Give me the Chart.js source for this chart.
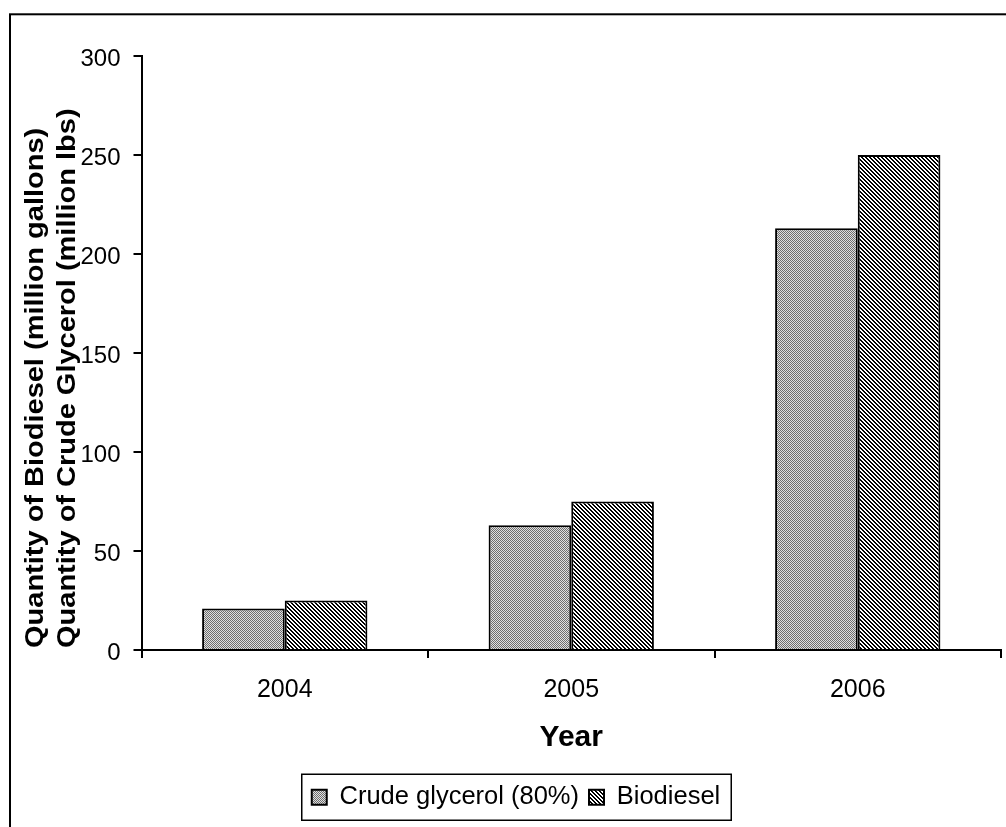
<!DOCTYPE html>
<html>
<head>
<meta charset="utf-8">
<script src="https://cdn.jsdelivr.net/npm/chart.js@4.4.1/dist/chart.umd.min.js"></script>
<style>
  html, body { margin: 0; padding: 0; background: #fff; }
  #wrap { position: relative; width: 1006px; height: 827px; }
</style>
</head>
<body>
<div id="wrap"><canvas id="chart"></canvas></div>
<script>
const years = ["2004", "2005", "2006"];
const crudeGlycerol = [21, 63, 213];
const biodiesel = [25, 75, 250];
const seriesNames = ["Crude glycerol (80%)", "Biodiesel"];
const yTitleLines = ["Quantity of Biodiesel (million gallons)", "Quantity of Crude Glycerol (million lbs)"];
const xTitle = "Year";
const yMin = 0, yMax = 300, yStep = 50;

const FONT = "'Liberation Sans', Arial, sans-serif";
Chart.defaults.font.family = FONT;
Chart.defaults.color = "#000";

// small repeating fills like the old office patterns
function makePattern(draw) {
    const c = document.createElement("canvas");
    c.width = 4;
    c.height = 4;
    const g = c.getContext("2d");
    draw(g);
    return g.createPattern(c, "repeat");
}

const dottedGrey = makePattern(g => {
    g.fillStyle = "#e0e0e0";
    g.fillRect(0, 0, 4, 4);
    g.fillStyle = "#6e6e6e";
    for (let x = 0; x < 4; x++) {
        for (let y = 0; y < 4; y++) {
            if ((x + y) % 2 === 0) g.fillRect(x, y, 1, 1);
        }
    }
});

const diagonalStripes = makePattern(g => {
    g.fillStyle = "#fff";
    g.fillRect(0, 0, 4, 4);
    g.fillStyle = "#000";
    for (let x = 0; x < 4; x++) {
        for (let y = 0; y < 4; y++) {
            if ((x - y + 4) % 4 < 2) g.fillRect(x, y, 1, 1);
        }
    }
});

const decorations = {
    id: "decorations",
    afterDraw(chart) {
        const ctx = chart.ctx;
        ctx.save();
        ctx.strokeStyle = "#000";
        ctx.lineWidth = 2;
        // outer frame, runs off the right and bottom edges
        ctx.strokeRect(10, 14.3, 1200, 1000);

        // frame round the legend
        const boxes = chart.legend.legendHitBoxes;
        if (boxes && boxes.length) {
            const left = Math.min(...boxes.map(b => b.left)) - 10;
            const right = Math.max(...boxes.map(b => b.left + b.width)) + 11;
            const mid = boxes[0].top + boxes[0].height / 2;
            ctx.lineWidth = 1.5;
            ctx.strokeRect(left, mid - 23, right - left, 46);
        }

        // two-line y title, both lines start at the bottom
        ctx.fillStyle = "#000";
        ctx.font = "bold 26px " + FONT;
        ctx.textAlign = "left";
        ctx.textBaseline = "alphabetic";
        const baselines = [43, 75];
        yTitleLines.forEach((line, i) => {
            ctx.save();
            ctx.translate(baselines[i], 648);
            ctx.rotate(-Math.PI / 2);
            ctx.scale(1.115, 1);
            ctx.fillText(line, 0, 0);
            ctx.restore();
        });
        ctx.restore();
    }
};

new Chart(document.getElementById("chart"), {
    type: "bar",
    data: {
        labels: years,
        datasets: [
            {
                label: seriesNames[0],
                data: crudeGlycerol,
                backgroundColor: dottedGrey,
                borderColor: "#000",
                borderWidth: 2,
                categoryPercentage: 0.577,
                barPercentage: 1,
            },
            {
                label: seriesNames[1],
                data: biodiesel,
                backgroundColor: diagonalStripes,
                borderColor: "#000",
                borderWidth: 2,
                categoryPercentage: 0.577,
                barPercentage: 1,
            },
        ],
    },
    options: {
        responsive: true,
        maintainAspectRatio: false,
        animation: false,
        layout: {
            padding: { left: 31, right: 5, top: 56, bottom: 7 },
        },
        scales: {
            x: {
                grid: {
                    drawOnChartArea: false,
                    color: "#000",
                    lineWidth: 2,
                    tickLength: 8,
                },
                border: { color: "#000", width: 2 },
                ticks: {
                    font: { size: 25 },
                    padding: 17,
                },
                title: {
                    display: true,
                    text: xTitle,
                    font: { size: 30, weight: "bold" },
                    padding: { top: -2, bottom: 18.5 },
                },
            },
            y: {
                min: yMin,
                max: yMax,
                afterFit: (scale) => { scale.width = 110.5; },
                grid: {
                    drawOnChartArea: false,
                    color: "#000",
                    lineWidth: 2,
                    tickLength: 8,
                },
                border: { color: "#000", width: 2 },
                ticks: {
                    stepSize: yStep,
                    font: { size: 24 },
                    padding: 13,
                    labelOffset: 3,
                },
            },
        },
        plugins: {
            legend: {
                position: "bottom",
                labels: {
                    font: { size: 25.5 },
                    boxWidth: 15,
                    boxHeight: 15,
                    padding: 10,
                },
            },
            tooltip: { enabled: false },
        },
    },
    plugins: [decorations],
});
</script>
</body>
</html>
